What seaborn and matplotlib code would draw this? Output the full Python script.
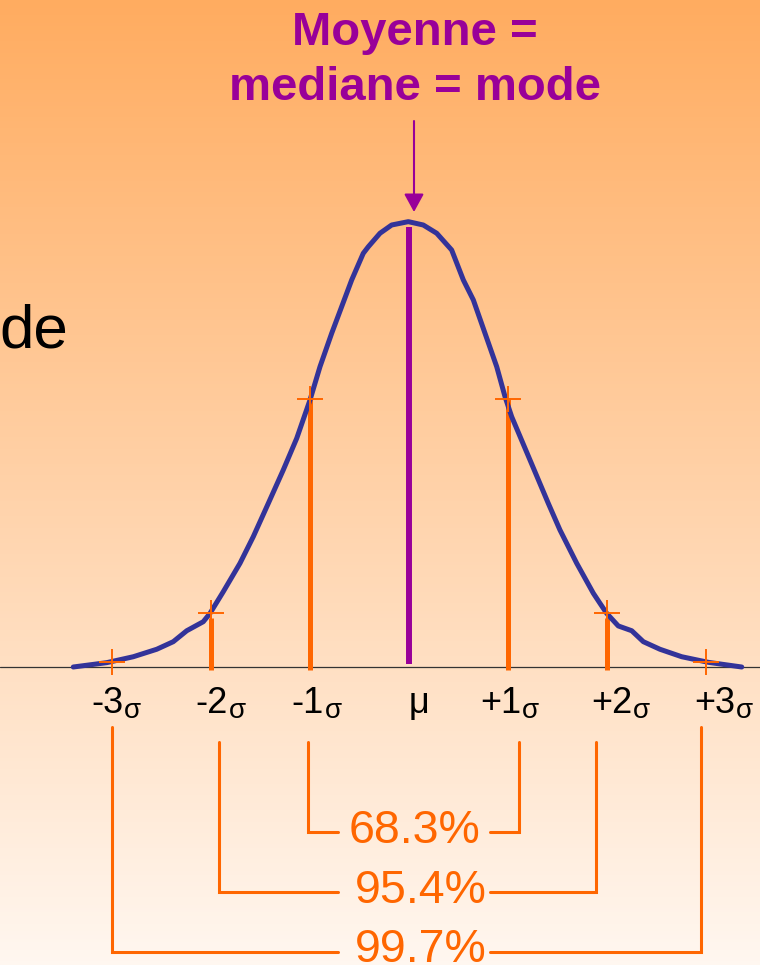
import numpy as np
import pandas as pd
import matplotlib
matplotlib.use("Agg")
import matplotlib.pyplot as plt
import seaborn as sns

# Normal curve traced in standard-deviation units (z) and density
curve_z = [-3.386, -3.048, -2.780, -2.543, -2.376, -2.240, -2.073, -2.005, -1.871,
           -1.702, -1.568, -1.416, -1.265, -1.129, -0.995, -0.894, -0.776, -0.675,
           -0.574, -0.457, -0.406, -0.288, -0.170, -0.002, 0.149, 0.285, 0.436,
           0.554, 0.655, 0.773, 0.891, 0.975, 1.042, 1.227, 1.412, 1.530, 1.699,
           1.867, 1.934, 2.002, 2.119, 2.255, 2.372, 2.540, 2.760, 3.028, 3.366]
curve_density = [0.000, 0.0039, 0.0092, 0.0159, 0.0227, 0.0325, 0.0406, 0.0481, 0.0675,
                 0.0930, 0.1168, 0.1467, 0.1766, 0.2050, 0.2393, 0.2692, 0.2991, 0.3230,
                 0.3469, 0.3708, 0.3767, 0.3888, 0.3962, 0.3992, 0.3962, 0.3888, 0.3738,
                 0.3469, 0.3290, 0.2991, 0.2692, 0.2423, 0.2244, 0.1856, 0.1467, 0.1228,
                 0.0930, 0.0661, 0.0571, 0.0481, 0.0368, 0.0325, 0.0227, 0.0159, 0.0092,
                 0.0042, 0.000]

# Cross markers on the curve at each sigma
cross_z = [-3, -2, -1, 1, 2, 3]
cross_density = [0.0045, 0.0484, 0.240, 0.240, 0.0484, 0.0045]

# Orange stems at +/-1 and +/-2 sigma, purple stem at the mean
stem_z = [-2, -1, 1, 2]
stem_top = [0.044, 0.241, 0.241, 0.044]
mean_z = 0.0
mean_top = 0.394

# Axis labels under the baseline
tick_numbers = ["-3", "-2", "-1", "+1", "+2", "+3"]
mean_label = "μ"

# Share of values inside +/-1, +/-2, +/-3 sigma
coverage_pct = [68.3, 95.4, 99.7]

title_lines = ["Moyenne =", "mediane = mode"]

PURPLE = "#990099"
ORANGE = "#FF6600"
BLUE = "#333399"

sns.set_style("white")
plt.rcParams["font.family"] = ["Liberation Sans", "DejaVu Sans"]

W, H = 760, 965
fig = plt.figure(figsize=(W / 100, H / 100), dpi=100)
ax = fig.add_axes([0, 0, 1, 1])

# pixel layout helpers (axes fill the figure)
X0, SIG = 408.5, 99.0
Y0, DSCALE = 667.0, 1115.6


def PX(px):
    return (px - X0) / SIG


def PY(py):
    return (Y0 - py) / DSCALE


# background: vertical orange-to-cream gradient
top = np.array([255, 172, 96]) / 255
bot = np.array([255, 247, 240]) / 255
t = np.linspace(0, 1, 256)[:, None]
grad = (top[None, :] * (1 - t) + bot[None, :] * t)[:, None, :]
ax.imshow(grad, extent=(PX(0), PX(W), PY(H), PY(0)), aspect="auto",
          origin="upper", zorder=0)

# baseline
ax.axhline(0, color="#333333", lw=0.9, zorder=1)

# stems
ax.vlines(stem_z, PY(670), stem_top, colors=ORANGE, lw=3.6, zorder=2)
ax.vlines([mean_z], PY(664), [mean_top], colors=PURPLE, lw=4.3, zorder=2)

# the curve
df = pd.DataFrame({"z": curve_z, "density": curve_density})
sns.lineplot(data=df, x="z", y="density", ax=ax, color=BLUE, lw=3.6,
             sort=False, estimator=None, zorder=3)
ax.set_xlim(PX(0), PX(W))
ax.set_ylim(PY(H), PY(0))
ax.axis("off")

# crosses
ax.plot(cross_z, cross_density, ls="none", marker="+", ms=19, mew=1.4,
        color=ORANGE, zorder=4)

# sigma labels
num_right = [123, 228, 324, 521, 632, 735]
for lab, xr in zip(tick_numbers, num_right):
    ax.text(PX(xr), PY(713), lab, fontsize=26, color="black",
            ha="right", va="baseline")
    ax.text(PX(xr + 1), PY(718), "σ", fontsize=20, color="black",
            ha="left", va="baseline")
ax.text(PX(418.5), PY(713), mean_label, fontsize=26, color="black",
        ha="center", va="baseline")

# coverage brackets
brackets = [  # left x, right x, top y, bar y, label centre x, label baseline
    (308, 519, 742, 832, 414, 843),
    (219, 596, 742, 892, 421, 903),
    (112, 701, 727, 952, 421, 962),
]
gap_l, gap_r = 338, 490
for pct, (xl, xr, yt, yb, cx, by) in zip(coverage_pct, brackets):
    ax.plot([PX(xl), PX(xl), PX(gap_l)], [PY(yt), PY(yb), PY(yb)],
            color=ORANGE, lw=2.2, solid_joinstyle="miter", zorder=2)
    ax.plot([PX(gap_r), PX(xr), PX(xr)], [PY(yb), PY(yb), PY(yt)],
            color=ORANGE, lw=2.2, solid_joinstyle="miter", zorder=2)
    ax.text(PX(cx), PY(by), f"{pct}%", fontsize=33.5, color=ORANGE,
            ha="center", va="baseline", zorder=3)

# title and arrow to the peak
ax.text(PX(414.5), PY(45), title_lines[0], fontsize=34, fontweight="bold",
        color=PURPLE, ha="center", va="baseline")
ax.text(PX(414.5), PY(100), title_lines[1], fontsize=34, fontweight="bold",
        color=PURPLE, ha="center", va="baseline")
ax.annotate("", xy=(PX(414), PY(212)), xytext=(PX(414), PY(121)),
            arrowprops=dict(arrowstyle="-|>,head_length=1.1,head_width=0.6",
                            color=PURPLE, lw=1.5, mutation_scale=10,
                            shrinkA=0, shrinkB=0))

# leftover slide text at the left edge
ax.text(PX(68), PY(347), "de", fontsize=44.6, color="black",
        ha="right", va="baseline")

fig.savefig("out.png", dpi=100)
